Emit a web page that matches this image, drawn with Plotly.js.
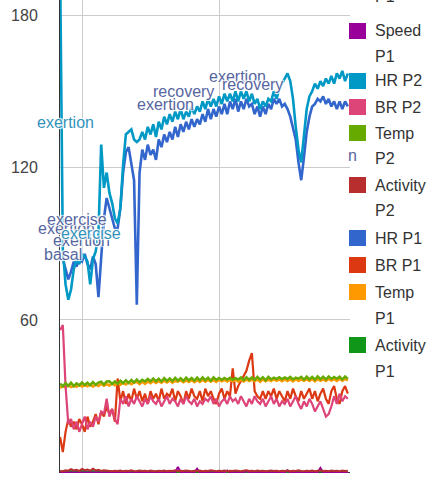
<!DOCTYPE html>
<html>
<head>
<meta charset="utf-8">
<script src="https://cdn.plot.ly/plotly-3.0.1.min.js"></script>
<style>html,body{margin:0;padding:0;background:#fff;}#chart{width:432px;height:481px;}</style>
</head>
<body>
<div id="chart"></div>
<script>
// ---------- DATA ----------
const t = [84,86,88,90,92,94,96,98,100,102,
  104,106,108,110,112,114,116,118,120,122,
  124,126,128,130,132,134,136,138,140,142,
  144,146,148,150,152,154,156,158,160,162,
  164,166,168,170,172,174,176,178,180,182,
  184,186,188,190,192,194,196,198,200,202,
  204,206,208,210,212,214,216,218,220,222,
  224,226,228,230,232,234,236,238,240,242,
  244,246,248,250,252,254,256,258,260,262,
  264,266,268,270,272,274,276,278,280,282,
  284,286,288,290,292,294];

const hrP1 = [84,84,80,76,79,83,81,84,83,86,
  82,80,85,82,69,86,100,108,104,100,
  96,96,104,118,126,128,122,115,66,118,
  127,123,129,125,127,123,131,128,133,130,
  134,131,136,132,137,134,138,135,139,136,
  139,137,141,138,143,139,143,140,144,141,
  145,141,146,143,147,142,146,143,147,144,
  145,141,144,140,144,141,145,143,147,145,
  147,144,145,143,140,136,131,122,115,124,
  134,140,144,145,147,146,148,145,147,144,
  146,143,146,143,146,144];

const brP1 = [14,8,16,21,18,20,17,21,19,16,
  22,18,20,23,19,24,22,26,23,25,
  20,37,28,32,27,31,28,33,29,32,
  28,31,27,32,29,31,28,33,29,31,
  30,33,28,32,30,27,32,29,33,30,
  29,32,28,33,30,32,29,27,31,33,
  29,32,30,41,31,34,36,38,40,44,
  47,32,30,29,32,29,32,30,33,29,
  32,30,28,32,29,33,30,28,32,29,
  31,33,29,32,28,31,33,29,27,32,
  34,29,27,32,34,31];

const tempP1 = [33.2,34.0,33.4,34.3,33.6,34.2,33.7,34.5,33.8,34.4,
  33.9,34.7,33.8,34.6,34.0,34.9,34.1,34.8,34.2,35.1,
  34.3,35.2,34.5,35.3,34.6,35.5,34.7,35.4,35.6,34.8,
  35.7,34.9,35.8,35.1,36.0,35.2,35.9,35.3,36.1,35.4,
  36.2,35.3,36.0,35.7,36.3,35.5,36.2,35.6,36.4,35.5,
  36.3,35.6,36.5,35.7,36.4,35.8,36.3,35.6,36.5,35.9,
  36.4,35.8,36.5,35.9,36.6,35.7,36.5,35.8,36.6,36.0,
  36.5,35.9,36.6,35.7,36.7,35.9,36.5,36.0,36.7,36.1,
  36.6,35.9,36.7,36.0,36.6,35.8,36.8,36.0,36.6,36.1,
  36.7,36.0,36.8,35.9,36.8,36.1,36.6,36.0,36.8,36.2,
  36.7,36.0,36.9,36.1,36.8,36.2];

const actP1 = [0.4,0.3,0.5,0.2,0.6,0.3,0.5,0.4,0.7,0.3,
  0.5,0.4,0.6,0.3,0.5,0.2,0.4,0.3,0.5,0.4,
  0.3,0.5,0.2,0.4,0.3,0.5,0.4,0.2,0.3,0.5,
  0.4,0.3,0.2,0.4,0.3,0.5,0.3,0.2,0.4,0.3,
  0.5,0.3,0.4,0.2,0.3,0.4,0.3,0.5,0.2,0.4,
  0.3,0.4,0.2,0.3,0.5,0.3,0.4,0.2,0.3,0.4,
  0.3,0.2,0.4,0.3,0.5,0.2,0.3,0.4,0.3,0.2,
  0.4,0.3,0.5,0.2,0.3,0.4,0.2,0.3,0.5,0.3,
  0.2,0.4,0.3,0.2,0.4,0.3,0.5,0.2,0.3,0.4,
  0.3,0.2,0.4,0.3,0.2,0.5,0.3,0.4,0.2,0.3,
  0.4,0.3,0.2,0.4,0.3,0.2];

const speedP1 = [0,0,0,0,0,0,0,0,0,0,
  0,0,0,0,0,0,0,0,0,0,
  0,0,0,0,0,0,0,0,0,0,
  0,0,0,0,0,0,0,0,0,0,
  0,0,0,2.2,0,0,0,0,0,0,
  1.5,0,0,0,0,0,0,0,0,0,
  0,0.8,0,0,0,0,0,0,0.7,0,
  0,0,0,0,0,0,0,0,0,0,
  0,0,0,0.9,0,0,0,0,0,0,
  0,0,0,0,0,1.8,0,0,0,0,
  0,0,0,0,0,0];

const hrP2 = [200,88,74,68,72,80,84,82,86,85,
  83,74,84,87,94,129,112,118,110,106,
  100,98,104,121,133,134,135,131,130,131,
  134,131,136,133,137,132,138,135,140,137,
  141,138,142,139,143,139,142,140,144,141,
  144,142,146,143,147,144,147,144,148,145,
  149,146,149,146,150,146,150,147,150,146,
  149,145,147,143,146,144,147,146,150,147,
  151,153,155,157,154,147,136,127,122,132,
  143,148,150,153,151,154,152,155,153,156,
  153,157,155,158,154,157];

const brP2 = [56,58,34,19,21,17,20,16,19,22,
  17,20,18,22,20,24,23,29,22,25,
  21,19,29,27,30,26,29,27,30,28,
  26,29,27,30,28,27,29,26,28,30,
  27,29,28,26,29,27,30,28,27,29,
  26,28,27,29,28,30,27,29,26,28,
  29,27,30,28,29,27,30,28,26,29,
  27,30,28,27,29,26,28,30,27,29,
  26,28,27,29,26,28,30,27,25,28,
  26,29,27,24,26,28,25,22,23,26,
  30,27,31,28,30,29];

const tempP2 = [35.0,33.9,35.2,34.1,35.3,34.0,35.1,34.3,35.4,34.4,
  35.3,34.3,35.6,34.5,35.4,35.7,34.6,35.8,35.9,34.8,
  35.8,34.9,36.1,35.1,36.3,35.2,36.4,35.4,36.6,35.5,
  36.5,35.8,36.8,35.9,37.0,35.9,36.9,35.8,37.1,36.0,
  37.0,36.0,37.2,36.1,37.1,36.0,37.3,36.2,37.2,36.1,
  37.3,36.2,37.4,36.3,37.3,36.1,37.4,36.4,37.2,36.5,
  37.2,36.6,37.3,36.5,37.1,36.6,37.4,36.3,37.5,36.5,
  37.4,36.4,37.6,36.5,37.5,36.3,37.6,36.6,37.3,36.8,
  37.5,36.7,37.4,36.8,37.6,36.6,37.3,36.9,37.6,36.5,
  37.7,36.6,37.6,36.5,37.8,36.7,37.7,36.6,37.8,36.8,
  37.6,36.9,37.7,36.6,37.8,36.8];

const actP2 = [0.6,0.5,0.9,0.7,1.3,0.8,1.1,0.6,1.4,0.9,
  1.2,0.7,1.5,0.8,1.1,0.6,0.9,0.7,0.8,0.5,
  0.7,0.6,0.8,0.5,0.7,0.6,0.9,0.5,0.6,0.8,
  0.6,0.7,0.5,0.8,0.6,0.5,0.7,0.6,0.8,0.5,
  0.7,0.6,0.9,0.5,0.7,0.6,0.8,0.6,0.5,0.7,
  0.6,0.8,0.5,0.7,0.6,0.9,0.6,0.5,0.7,0.6,
  0.8,0.5,0.7,0.6,0.8,0.6,0.5,0.7,0.9,0.6,
  0.7,0.5,0.8,0.6,0.7,0.5,0.6,0.8,0.6,0.7,
  0.5,0.7,0.6,0.8,0.5,0.7,0.6,0.9,0.6,0.5,
  0.7,0.6,0.8,0.5,0.7,0.9,0.6,0.7,0.5,0.8,
  0.6,0.7,0.5,0.8,0.6,0.7];

const yTickVals = [0, 60, 120, 180];
const yTickText = ['0', '60', '120', '180'];

// annotation labels (text, series, time, value)
const annText   = ['exertion','exertion','exertion','basal','exercise','exercise','exertion','recovery','exertion','recovery'];
const annSeries = ['P2','P1','P1','P1','P1','P2','P1','P1','P1','P1'];
const annT      = [87.6, 88.7, 99.6, 85.8, 96.7, 106.2, 160.6, 174.1, 213.5, 224.5];
const annV      = [137.6, 95.9, 91.1, 85.6, 99.4, 93.9, 144.7, 149.8, 155.7, 152.6];

// legend (as drawn, clipped at top)
const legendNames  = [['Speed','P1'],['HR P2'],['BR P2'],['Temp','P2'],['Activity','P2'],['HR P1'],['BR P1'],['Temp','P1'],['Activity','P1']];
const legendColors = ['#990099','#0099C6','#DD4477','#66AA00','#B82E2E','#3366CC','#DC3912','#FF9900','#109618'];

// ---------- CHART ----------
const FONT = '"Liberation Sans", Arial, sans-serif';
function line(y, name, color, w) {
  return {x: t, y: y, name: name, type: 'scatter', mode: 'lines',
          line: {color: color, width: w || 2}, hoverinfo: 'skip'};
}
const traces = [
  line(hrP1, 'HR P1', '#3366CC', 2.6),
  line(brP1, 'BR P1', '#DC3912', 2.2),
  line(tempP1, 'Temp P1', '#FF9900', 2.5),
  line(actP1, 'Activity P1', '#109618', 2),
  line(speedP1, 'Speed P1', '#990099', 2),
  line(hrP2, 'HR P2', '#0099C6', 2.6),
  line(brP2, 'BR P2', '#DD4477', 2.2),
  line(tempP2, 'Temp P2', '#66AA00', 2.5),
  line(actP2, 'Activity P2', '#B82E2E', 2)
];

const W = 432, H = 481, ML = 60, MR = 82, MT = 0, MB = 8;
const PW = W - ML - MR, PH = H - MT - MB;
const px2paperX = px => (px - ML) / PW;
const px2paperY = py => 1 - (py - MT) / PH;

const aura = '1px 1px 1px #fff, -1px -1px 1px #fff, 1px -1px 1px #fff, -1px 1px 1px #fff';
const annColors = {P1: '#56669f', P2: '#3393bb'};
const annotations = [];
for (let i = 0; i < annText.length; i++) {
  annotations.push({x: annT[i], y: annV[i], xref: 'x', yref: 'y', text: annText[i],
    showarrow: false, xanchor: 'center', yanchor: 'middle',
    font: {family: FONT, size: 16, color: annColors[annSeries[i]], shadow: aura}});
}
// clipped label fragment near legend
annotations.push({x: px2paperX(352), y: px2paperY(156), xref: 'paper', yref: 'paper', text: 'n',
  showarrow: false, xanchor: 'center', yanchor: 'middle',
  font: {family: FONT, size: 16, color: '#56669f'}});

// legend
const lineY = [31,56,81,107,133,158,185,211,238,265,292,318,345,371];
const shapes = [];
let li = 0;
// clipped entry text at the very top
annotations.push({x: px2paperX(373), y: px2paperY(-3), xref: 'paper', yref: 'paper', text: 'P1',
  showarrow: false, xanchor: 'left', yanchor: 'middle', font: {family: FONT, size: 16, color: '#333'}});
legendNames.forEach((lines, k) => {
  const y0 = lineY[li];
  shapes.push({type: 'rect', xref: 'paper', yref: 'paper', layer: 'above',
    x0: px2paperX(349), x1: px2paperX(366), y0: px2paperY(y0 - 8), y1: px2paperY(y0 + 8),
    fillcolor: legendColors[k], line: {width: 0}});
  lines.forEach(txt => {
    annotations.push({x: px2paperX(373), y: px2paperY(lineY[li]), xref: 'paper', yref: 'paper', text: txt,
      showarrow: false, xanchor: 'left', yanchor: 'middle', font: {family: FONT, size: 16, color: '#333'}});
    li++;
  });
});

const layout = {
  width: W, height: H,
  margin: {l: ML, r: MR, t: MT, b: MB, pad: 0},
  paper_bgcolor: '#fff', plot_bgcolor: '#fff',
  showlegend: false,
  font: {family: FONT, size: 16, color: '#444'},
  xaxis: {range: [83.94, 295.6], tick0: 0, dtick: 100, showgrid: true, gridcolor: '#cccccc', gridwidth: 1,
          zeroline: false, showticklabels: false, ticks: '', showline: false, fixedrange: true},
  yaxis: {range: [-0.2, 185.9], tickvals: yTickVals, ticktext: yTickText, showgrid: true, gridcolor: '#cccccc',
          zeroline: true, zerolinecolor: '#333333', zerolinewidth: 1, showline: true, linecolor: '#333333', linewidth: 1,
          ticks: '', ticklabelstandoff: 18, tickfont: {family: FONT, size: 16, color: '#444'}, fixedrange: true},
  shapes: shapes,
  annotations: annotations
};

Plotly.newPlot('chart', traces, layout, {staticPlot: true, displayModeBar: false});
</script>
</body>
</html>
